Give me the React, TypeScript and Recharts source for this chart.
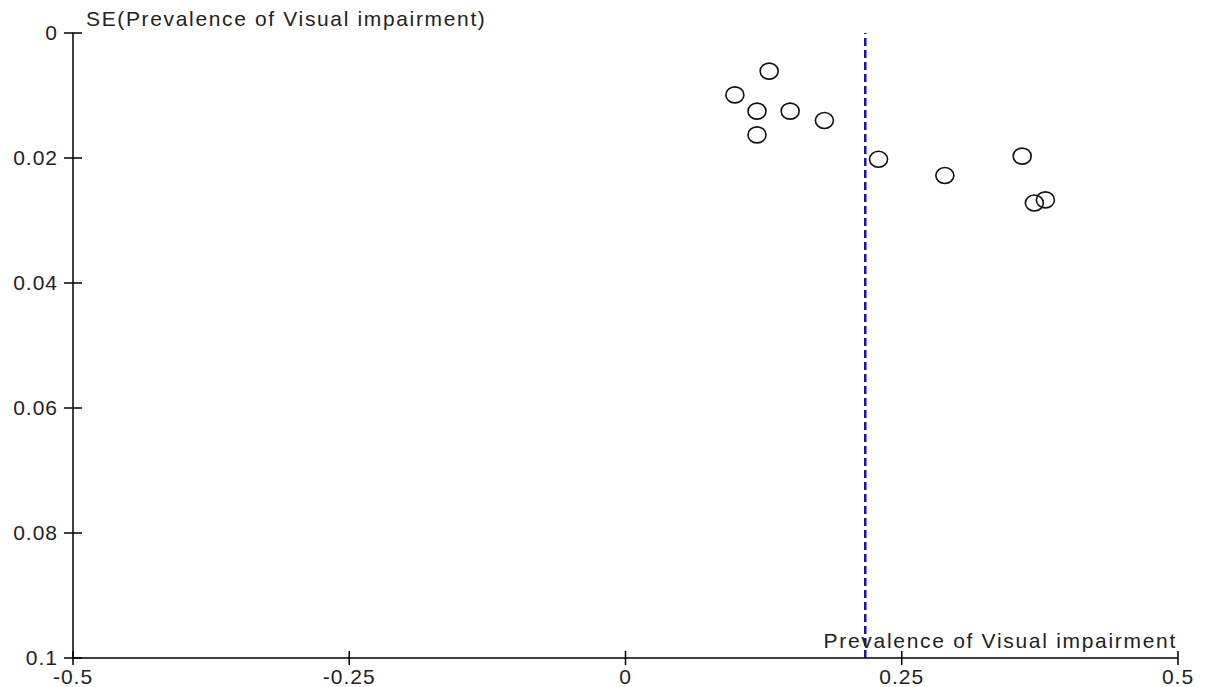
import React from 'react';
import { ScatterChart, Scatter, XAxis, YAxis, ReferenceLine, Label } from 'recharts';

// study estimates (prevalence) and their standard errors
const prevalence = [0.13, 0.099, 0.119, 0.149, 0.18, 0.119, 0.229, 0.289, 0.359, 0.37, 0.38];
const standardErrors = [0.0061, 0.0099, 0.0125, 0.0125, 0.014, 0.0163, 0.0202, 0.0228, 0.0197, 0.0272, 0.0267];
const pooledEstimate = 0.217;

const xTicks = [-0.5, -0.25, 0, 0.25, 0.5];
const yTicks = [0, 0.02, 0.04, 0.06, 0.08, 0.1];

const FONT = '"Liberation Sans", Arial, sans-serif';
const TEXT_COLOR = '#222';

const points = prevalence.map((p, i) => ({ x: p, y: standardErrors[i] }));

const XTick = ({ x, y, payload }: any) => (
    <g>
        <line x1={x} x2={x} y1={y - 7} y2={y + 7} stroke="#000" strokeWidth={1.5} />
        <text x={x} y={y + 26} textAnchor="middle" fontSize={21} letterSpacing={1} fontFamily={FONT} fill={TEXT_COLOR}>
            {payload.value}
        </text>
    </g>
);

const YTick = ({ x, y, payload }: any) => (
    <g>
        <line x1={x - 9} x2={x + 9} y1={y} y2={y} stroke="#000" strokeWidth={1.5} />
        <text x={x - 15} y={y} dy="0.35em" textAnchor="end" fontSize={21} letterSpacing={1} fontFamily={FONT} fill={TEXT_COLOR}>
            {payload.value}
        </text>
    </g>
);

const OpenCircle = ({ cx, cy }: any) => (
    <ellipse cx={cx} cy={cy} rx={9} ry={8} fill="none" stroke="#111" strokeWidth={1.6} />
);

const App: React.FC = () => {
    return (
        <div style={{ position: 'absolute', left: 0, top: 0, background: '#fff' }}>
            <ScatterChart width={1209} height={687} margin={{ top: 33, right: 31, bottom: 0, left: 0 }}>
                <XAxis
                    type="number"
                    dataKey="x"
                    domain={[-0.5, 0.5]}
                    ticks={xTicks}
                    height={29}
                    tickSize={0}
                    tickMargin={0}
                    tickLine={false}
                    tick={<XTick />}
                    axisLine={{ stroke: '#000', strokeWidth: 1.5 }}
                    allowDataOverflow
                >
                    <Label
                        content={({ viewBox }: any) => (
                            <text
                                x={viewBox.x + viewBox.width - 1}
                                y={viewBox.y - 10}
                                textAnchor="end"
                                fontSize={21}
                                letterSpacing={1.7}
                                fontFamily={FONT}
                                fill={TEXT_COLOR}
                            >
                                Prevalence of Visual impairment
                            </text>
                        )}
                    />
                </XAxis>
                <YAxis
                    type="number"
                    dataKey="y"
                    domain={[0, 0.1]}
                    ticks={yTicks}
                    reversed
                    width={73}
                    tickSize={0}
                    tickMargin={0}
                    tickLine={false}
                    tick={<YTick />}
                    axisLine={{ stroke: '#000', strokeWidth: 1.5 }}
                    allowDataOverflow
                >
                    <Label
                        content={({ viewBox }: any) => (
                            <text
                                x={viewBox.x + viewBox.width + 13}
                                y={viewBox.y - 7}
                                textAnchor="start"
                                fontSize={21}
                                letterSpacing={1.65}
                                fontFamily={FONT}
                                fill={TEXT_COLOR}
                            >
                                SE(Prevalence of Visual impairment)
                            </text>
                        )}
                    />
                </YAxis>
                <ReferenceLine x={pooledEstimate} stroke="#1414a0" strokeWidth={2.5} strokeDasharray="8 4" />
                <Scatter data={points} shape={<OpenCircle />} isAnimationActive={false} />
            </ScatterChart>
        </div>
    );
};

export default App;
